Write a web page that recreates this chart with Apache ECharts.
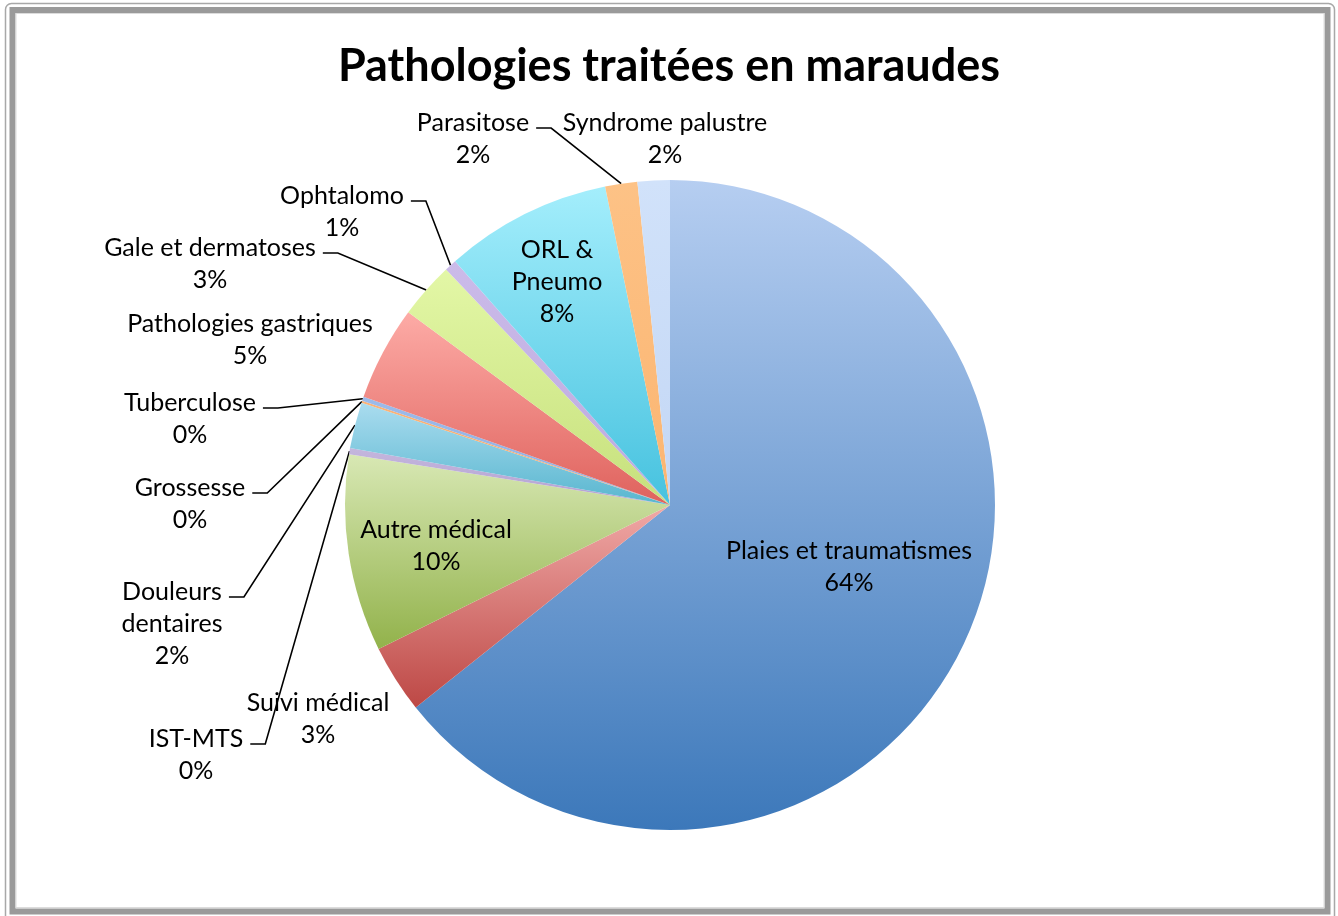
<!DOCTYPE html>
<html><head><meta charset="utf-8">
<script src="https://cdn.jsdelivr.net/npm/echarts@6/dist/echarts.min.js"></script>
<style>html,body{margin:0;padding:0;background:#fff;} #c{width:1338px;height:916px;}</style>
</head><body><div id="c"></div>
<script>
// ---- data ----
const titleText = 'Pathologies traitées en maraudes';
const categories = ['Plaies et traumatismes','Suivi médical','Autre médical','IST-MTS','Douleurs dentaires','Grossesse','Tuberculose','Pathologies gastriques','Gale et dermatoses','Ophtalomo','ORL & Pneumo','Parasitose','Syndrome palustre'];
const values = [64.3, 3.4, 9.8, 0.3, 2.3, 0.1, 0.2, 4.7, 2.8, 0.6, 8.3, 1.6, 1.6];
const wrappedNames = {'Douleurs dentaires':'Douleurs\ndentaires','ORL & Pneumo':'ORL &\nPneumo'};

// ---- styles / layout ----
const sliceColors = [
  ['#b6cef1','#3c78ba'],
  ['#f0a9a7','#bd4845'],
  ['#d8e8b4','#92b24b'],
  ['#c4b6dd','#b3a2d2'],
  ['#aadcef','#58b6cf'],
  ['#f9b37a','#f7a865'],
  ['#9cbbea','#8eaee2'],
  ['#fdaba6','#df625d'],
  ['#e3f7a6','#c6e07c'],
  ['#cbbbe9','#bdaadf'],
  ['#a4eefc','#46c2df'],
  ['#fdc286','#fbb571'],
  ['#d1e2fa','#c3d7f5']
];
const CX = 670, CY = 505, R = 325;
const FONT = 'Lato', FS = 25, LH = 32;
// label first-line centre per slice
const labelAnchor = [
  [849,551],[318,703],[436,530],[196,739],[172,592],[190,488],[190,403],
  [250,324],[210,248],[342,196],[557,250],[473,123],[665,123]
];
const withLine = [3,4,5,6,8,9,11];

const total = values.reduce((a,b)=>a+b,0);
const measureCtx = document.createElement('canvas').getContext('2d');
measureCtx.font = FS + 'px ' + FONT;
function labelText(i){
  const n = wrappedNames[categories[i]] || categories[i];
  return n + '\n' + Math.round(values[i]/total*100) + '%';
}
function midAngle(i){
  let s = 0; for (let k=0;k<i;k++) s += values[k];
  return (s + values[i]/2)/total * 2*Math.PI;
}

const chart = echarts.init(document.getElementById('c'), null, {renderer:'canvas'});
chart.setOption({
  backgroundColor:'#fff',
  animation:false,
  title:{text:titleText, left:'center', top:39,
    textStyle:{fontFamily:FONT, fontWeight:'bold', fontSize:45, color:'#000'}},
  graphic:[
    {type:'rect', shape:{x:5.5,y:3.5,width:1329,height:940,r:6}, style:{fill:null, stroke:'#a8a8a8', lineWidth:1.5}, silent:true},
    {type:'rect', shape:{x:12.5,y:10,width:1315,height:901.5}, style:{fill:null, stroke:'#9a9a9a', lineWidth:6}, silent:true},
    {type:'rect', shape:{x:16,y:13.5,width:1308,height:894}, style:{fill:null, stroke:'#dcdcdc', lineWidth:1}, silent:true}
  ],
  series:[{
    type:'pie', center:[CX,CY], radius:R, startAngle:90, clockwise:true,
    avoidLabelOverlap:false, minShowLabelAngle:0,
    itemStyle:{borderWidth:0},
    label:{show:true, position:'outside', formatter:p=>labelText(p.dataIndex),
      fontFamily:FONT, fontSize:FS, lineHeight:LH, color:'#000'},
    labelLine:{show:true, length:10, length2:10, smooth:false, lineStyle:{color:'#000', width:1.6}},
    labelLayout:function(p){
      const i = p.dataIndex;
      const a = labelAnchor[i];
      const res = {x:a[0], y:a[1]-LH/2, align:'center', verticalAlign:'top'};
      if (withLine.indexOf(i) >= 0){
        const first = (wrappedNames[categories[i]] || categories[i]).split('\n')[0];
        const w1 = measureCtx.measureText(first).width;
        const sx = a[0] + w1/2 + 7, sy = a[1] + 5;
        const th = midAngle(i);
        res.labelLinePoints = [[CX + R*Math.sin(th), CY - R*Math.cos(th)],[sx+15, sy],[sx, sy]];
      }
      return res;
    },
    data: categories.map((n,i)=>({
      name:n, value:values[i],
      itemStyle:{color:{type:'linear',x:0,y:0,x2:0,y2:1,colorStops:[{offset:0,color:sliceColors[i][0]},{offset:1,color:sliceColors[i][1]}]}},
      labelLine:{show: withLine.indexOf(i) >= 0}
    }))
  }]
});
</script>
</body></html>
